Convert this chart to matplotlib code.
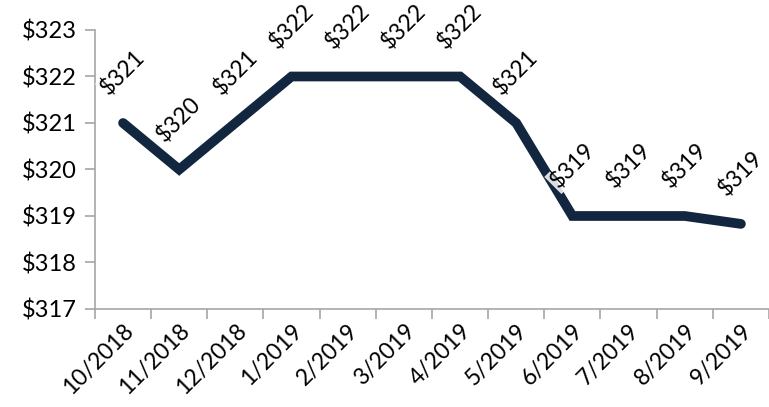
import matplotlib.pyplot as plt
import numpy as np

plt.rcParams['font.family'] = ['Lato', 'DejaVu Sans']

months = ['10/2018', '11/2018', '12/2018', '1/2019', '2/2019', '3/2019',
          '4/2019', '5/2019', '6/2019', '7/2019', '8/2019', '9/2019']
values = [321, 320, 321, 322, 322, 322, 322, 321, 319, 319, 319, 318.83]
labels = ['$321', '$320', '$321', '$322', '$322', '$322', '$322', '$321',
          '$319', '$319', '$319', '$319']
yticks = [317, 318, 319, 320, 321, 322, 323]

line_color = '#12263F'
axis_color = '#A6A6A6'

fig = plt.figure(figsize=(7.69, 4.07), dpi=100)
ax = fig.add_axes([0.1235, 0.2408, 0.8765, 0.6855])

x = np.arange(len(months))
ax.plot(x, values, color=line_color, lw=7, solid_capstyle='round',
        solid_joinstyle='miter', zorder=2)

for xi, v, lab in zip(x, values, labels):
    ax.annotate(lab, (xi, v), xytext=(0, 36), textcoords='offset points',
                ha='center', va='center', rotation=45, fontsize=16.5,
                color='black', zorder=5, annotation_clip=False,
                bbox=dict(boxstyle='square,pad=0.05', fc='white', ec='none', alpha=0.85))

ax.set_xlim(-0.5, len(months) - 0.5)
ax.set_ylim(317, 323)
ax.set_yticks(yticks)
ax.set_yticklabels(['$%d' % t for t in yticks], fontsize=17)

ax.set_xticks(x)
ax.set_xticklabels(months, rotation=45, ha='right', va='top',
                   rotation_mode='anchor', fontsize=16.5)
ax.tick_params(axis='x', which='major', length=0, pad=8)
ax.set_xticks(np.arange(-0.5, len(months), 1), minor=True)
ax.tick_params(axis='x', which='minor', length=7, width=1.2, color=axis_color)
ax.tick_params(axis='y', length=7, width=1.2, color=axis_color, pad=6)

for s in ['top', 'right']:
    ax.spines[s].set_visible(False)
for s in ['left', 'bottom']:
    ax.spines[s].set_color(axis_color)
    ax.spines[s].set_linewidth(1.2)

fig.savefig('out.png', dpi=100)
